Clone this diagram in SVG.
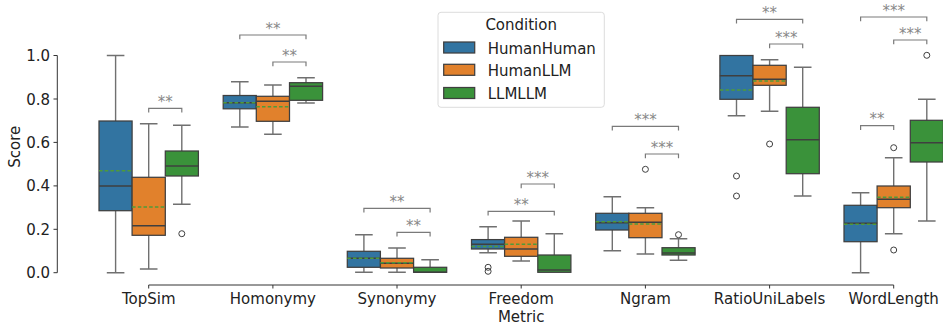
<svg xmlns="http://www.w3.org/2000/svg" width="943" height="326" viewBox="0 0 943 326">
<style>
text{font-family:"DejaVu Sans","Liberation Sans",sans-serif;fill:#222}
.tk{font-size:15px}
.yl{font-size:15px;text-anchor:end}
.xl{font-size:15px;text-anchor:middle}
.st{font-size:15px;text-anchor:middle;fill:#888}
.ax{stroke:#333;stroke-width:1;fill:none}
.bx{stroke:#3f3f3f;stroke-width:1.25}
.b{fill:#3274a1}.o{fill:#e1812c}.g{fill:#3a923a}
.md{stroke:#3f3f3f;stroke-width:1.4}
.mn{stroke:#4f9a3a;stroke-width:1.4;stroke-dasharray:3.5,2.2}
.wh{stroke:#707070;stroke-width:1.4;fill:none}
.ol{fill:none;stroke:#3f3f3f;stroke-width:1}
.br{stroke:#7a7a7a;stroke-width:1.2;fill:none}
</style>
<rect width="943" height="326" fill="#fff"/>
<g id="axes">
<path class="ax" d="M57.3 55.5V272.7M53.5 55.5H57.3M53.5 99H57.3M53.5 142.4H57.3M53.5 185.9H57.3M53.5 229.3H57.3M53.5 272.7H57.3"/>
<text class="yl" x="50" y="61">1.0</text>
<text class="yl" x="50" y="104.5">0.8</text>
<text class="yl" x="50" y="147.9">0.6</text>
<text class="yl" x="50" y="191.4">0.4</text>
<text class="yl" x="50" y="234.8">0.2</text>
<text class="yl" x="50" y="278.2">0.0</text>
<text class="tk" text-anchor="middle" transform="translate(20,146.7) rotate(-90)">Score</text>
<path class="ax" d="M148.7 285H893.7M148.7 285V288.5M272.9 285V288.5M397 285V288.5M521.2 285V288.5M645.4 285V288.5M769.6 285V288.5M893.7 285V288.5"/>
<text class="xl" x="148.7" y="304">TopSim</text>
<text class="xl" x="272.9" y="304">Homonymy</text>
<text class="xl" x="397" y="304">Synonymy</text>
<text class="xl" x="521.2" y="304">Freedom</text>
<text class="xl" x="645.4" y="304">Ngram</text>
<text class="xl" x="769.6" y="304">RatioUniLabels</text>
<text class="xl" x="893.7" y="304">WordLength</text>
<text class="xl" x="521.2" y="322">Metric</text>
</g>

<g id="topsim">
<path class="wh" d="M115.6 55.5V121M115.6 210.7V272.7M106.8 55.5H124.4M106.8 272.7H124.4"/>
<rect class="bx b" x="99" y="121" width="33.1" height="89.7"/>
<path class="md" d="M99 186H132.1"/><path class="mn" d="M99 170.7H132.1"/>
<path class="wh" d="M148.7 123.7V177.3M148.7 235.3V269M139.9 123.7H157.5M139.9 269H157.5"/>
<rect class="bx o" x="132.1" y="177.3" width="33.2" height="58"/>
<path class="md" d="M132.1 225.7H165.3"/><path class="mn" d="M132.1 207H165.3"/>
<path class="wh" d="M181.8 125.3V151M181.8 176V204.3M173 125.3H190.6M173 204.3H190.6"/>
<rect class="bx g" x="165.3" y="151" width="33.1" height="25"/>
<path class="md" d="M165.3 166H198.4"/>
<circle class="ol" cx="181.8" cy="233.7" r="3"/>
</g>

<g id="homonymy">
<path class="wh" d="M239.8 81.7V95.5M239.8 108.8V127M231 81.7H248.6M231 127H248.6"/>
<rect class="bx b" x="223.2" y="95.5" width="33.1" height="13.3"/>
<path class="md" d="M223.2 102.7H256.3"/><path class="mn" d="M223.2 102.7H256.3"/>
<path class="wh" d="M272.9 85V96.3M272.9 121.3V134.3M264.1 85H281.7M264.1 134.3H281.7"/>
<rect class="bx o" x="256.3" y="96.3" width="33.2" height="25"/>
<path class="md" d="M256.3 101.3H289.5"/><path class="mn" d="M256.3 106.7H289.5"/>
<path class="wh" d="M306 77.7V82.7M306 100.3V103M297.2 77.7H314.8M297.2 103H314.8"/>
<rect class="bx g" x="289.5" y="82.7" width="33.1" height="17.6"/>
<path class="md" d="M289.5 86.3H322.6"/>
</g>

<g id="synonymy">
<path class="wh" d="M363.9 234.7V251.3M363.9 267.3V272.3M355.1 234.7H372.7M355.1 272.3H372.7"/>
<rect class="bx b" x="347.3" y="251.3" width="33.1" height="16"/>
<path class="md" d="M347.3 258.3H380.4"/><path class="mn" d="M347.3 258.3H380.4"/>
<path class="wh" d="M397 248V258.3M397 268V272.3M388.2 248H405.8M388.2 272.3H405.8"/>
<rect class="bx o" x="380.4" y="258.3" width="33.2" height="9.7"/>
<path class="md" d="M380.4 263.3H413.6"/><path class="mn" d="M380.4 262.7H413.6"/>
<path class="wh" d="M430.1 259.7V267.3M421.3 259.7H438.9"/>
<rect class="bx g" x="413.6" y="267.3" width="33.1" height="5"/>
<path class="md" d="M413.6 272.3H446.7"/>
</g>

<g id="freedom">
<path class="wh" d="M488.1 226.7V239.6M488.1 249V252.7M479.3 226.7H496.9M479.3 252.7H496.9"/>
<rect class="bx b" x="471.5" y="239.6" width="33.1" height="9.4"/>
<path class="md" d="M471.5 244.3H504.6"/><path class="mn" d="M471.5 246.5H504.6"/>
<circle class="ol" cx="488.1" cy="267.3" r="3"/><circle class="ol" cx="488.1" cy="271.3" r="3"/>
<path class="wh" d="M521.2 221V237.3M521.2 256.3V261M512.4 221H530M512.4 261H530"/>
<rect class="bx o" x="504.6" y="237.3" width="33.2" height="19"/>
<path class="md" d="M504.6 249H537.8"/><path class="mn" d="M504.6 244.3H537.8"/>
<path class="wh" d="M554.3 233.7V255M545.5 233.7H563.1"/>
<rect class="bx g" x="537.8" y="255" width="33.1" height="17.3"/>
<path class="md" d="M537.8 270H570.9"/>
</g>

<g id="ngram">
<path class="wh" d="M612.3 196.7V213.3M612.3 230V250.7M603.5 196.7H621.1M603.5 250.7H621.1"/>
<rect class="bx b" x="595.7" y="213.3" width="33.1" height="16.7"/>
<path class="md" d="M595.7 222.7H628.8"/><path class="mn" d="M595.7 221.7H628.8"/>
<path class="wh" d="M645.4 207.7V213.3M645.4 237.7V254M636.6 207.7H654.2M636.6 254H654.2"/>
<rect class="bx o" x="628.8" y="213.3" width="33.2" height="24.4"/>
<path class="md" d="M628.8 222.3H662"/><path class="mn" d="M628.8 224H662"/>
<circle class="ol" cx="645.4" cy="169.3" r="3"/>
<path class="wh" d="M678.5 238.7V247.7M678.5 255V260.3M669.7 238.7H687.3M669.7 260.3H687.3"/>
<rect class="bx g" x="662" y="247.7" width="33.1" height="7.3"/>
<path class="md" d="M662 253H695.1"/>
<circle class="ol" cx="678.5" cy="234.7" r="3"/>
</g>

<g id="ratiounilabels">
<path class="wh" d="M736.5 99.3V115.7M727.7 115.7H745.3"/>
<rect class="bx b" x="719.9" y="55.5" width="33.1" height="43.8"/>
<path class="md" d="M719.9 75.7H753"/><path class="mn" d="M719.9 90H753"/>
<circle class="ol" cx="736.5" cy="176" r="3"/><circle class="ol" cx="736.5" cy="196" r="3"/>
<path class="wh" d="M769.6 59.7V65.3M769.6 85.3V111.3M760.8 59.7H778.4M760.8 111.3H778.4"/>
<rect class="bx o" x="753" y="65.3" width="33.2" height="20"/>
<path class="md" d="M753 79.3H786.2"/><path class="mn" d="M753 81H786.2"/>
<circle class="ol" cx="769.6" cy="144" r="3"/>
<path class="wh" d="M802.7 67.3V107.3M802.7 173.7V196M793.9 67.3H811.5M793.9 196H811.5"/>
<rect class="bx g" x="786.2" y="107.3" width="33.1" height="66.4"/>
<path class="md" d="M786.2 139.7H819.3"/>
</g>

<g id="wordlength">
<path class="wh" d="M860.6 192.7V205.3M860.6 241.7V272.7M851.8 192.7H869.4M851.8 272.7H869.4"/>
<rect class="bx b" x="844" y="205.3" width="33.1" height="36.4"/>
<path class="md" d="M844 223.3H877.1"/><path class="mn" d="M844 224.3H877.1"/>
<path class="wh" d="M893.7 157.7V186M893.7 207.7V233.7M884.9 157.7H902.5M884.9 233.7H902.5"/>
<rect class="bx o" x="877.1" y="186" width="33.2" height="21.7"/>
<path class="md" d="M877.1 199.3H910.3"/><path class="mn" d="M877.1 197.3H910.3"/>
<circle class="ol" cx="893.7" cy="147.7" r="3"/><circle class="ol" cx="893.7" cy="250" r="3"/>
<path class="wh" d="M926.8 99.3V120.3M926.8 162V221M918 99.3H935.6M918 221H935.6"/>
<rect class="bx g" x="910.3" y="120.3" width="33.1" height="41.7"/>
<path class="md" d="M910.3 142.7H943.4"/>
<circle class="ol" cx="926.8" cy="55.3" r="3"/>
</g>

<g id="connectors">
<path class="br" d="M148.7 112.6V108.3H181.8V112.6"/>
<text class="st" x="165.3" y="106.8">**</text>
<path class="br" d="M239.8 39.3V35H306V39.3"/>
<text class="st" x="272.9" y="33.5">**</text>
<path class="br" d="M272.9 66.3V62H306V66.3"/>
<text class="st" x="289.5" y="60.5">**</text>
<path class="br" d="M363.9 212.6V208.3H430.1V212.6"/>
<text class="st" x="397" y="206.8">**</text>
<path class="br" d="M397 236.6V232.3H430.1V236.6"/>
<text class="st" x="413.6" y="230.8">**</text>
<path class="br" d="M488.1 215.6V211.3H554.3V215.6"/>
<text class="st" x="521.2" y="209.8">**</text>
<path class="br" d="M521.2 188.3V184H554.3V188.3"/>
<text class="st" x="537.8" y="182.5">***</text>
<path class="br" d="M612.3 130.6V126.3H678.5V130.6"/>
<text class="st" x="645.4" y="124.8">***</text>
<path class="br" d="M645.4 158.3V154H678.5V158.3"/>
<text class="st" x="662" y="152.5">***</text>
<path class="br" d="M736.5 23.6V19.3H802.7V23.6"/>
<text class="st" x="769.6" y="17.8">**</text>
<path class="br" d="M769.6 48.3V44H802.7V48.3"/>
<text class="st" x="786.2" y="42.5">***</text>
<path class="br" d="M860.6 21.3V17H926.8V21.3"/>
<text class="st" x="893.7" y="15.5">***</text>
<path class="br" d="M893.7 44.3V40H926.8V44.3"/>
<text class="st" x="910.3" y="38.5">***</text>
<path class="br" d="M860.6 130V125.7H893.7V130"/>
<text class="st" x="877.1" y="124.2">**</text>
</g>

<g id="legend">
<rect x="438" y="12.3" width="166.3" height="95" rx="3" fill="#fff" fill-opacity="0.85" stroke="#dcdcdc" stroke-width="1"/>
<text class="tk" x="521.2" y="30" text-anchor="middle">Condition</text>
<rect class="bx b" x="443.7" y="42" width="31" height="11"/>
<text class="tk" x="487.7" y="53.5">HumanHuman</text>
<rect class="bx o" x="443.7" y="64.3" width="31" height="11"/>
<text class="tk" x="487.7" y="75.8">HumanLLM</text>
<rect class="bx g" x="443.7" y="87.5" width="31" height="11"/>
<text class="tk" x="487.7" y="98.5">LLMLLM</text>
</g>
</svg>
